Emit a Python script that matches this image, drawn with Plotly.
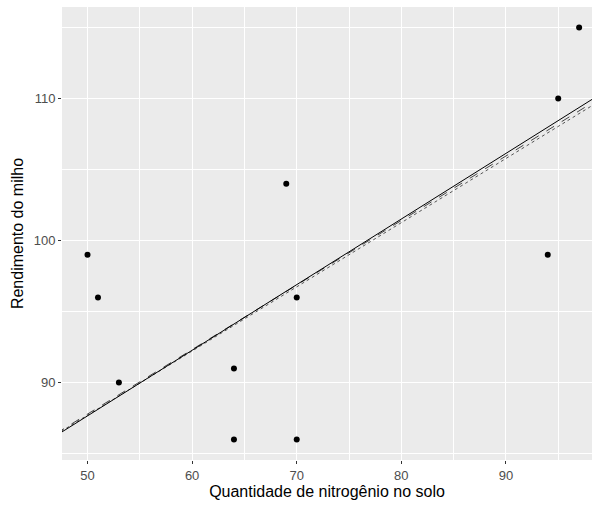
import plotly.graph_objects as go

# Data points
nitrogen = [50, 51, 53, 64, 64, 69, 70, 70, 94, 95, 97]
yield_milho = [99, 96, 90, 91, 86, 104, 96, 86, 99, 110, 115]

# Fitted lines (endpoints)
fit_x = [47, 100]
fit_solid = [86.27, 110.76]
fit_dashed = [86.42, 110.50]
fit_dotted = [86.35, 110.30]

x_ticks = [50, 60, 70, 80, 90]
y_ticks = [90, 100, 110]

fig = go.Figure()
fig.add_trace(go.Scatter(x=nitrogen, y=yield_milho, mode="markers",
                         marker=dict(color="black", size=6), showlegend=False))
fig.add_trace(go.Scatter(x=fit_x, y=fit_dotted, mode="lines",
                         line=dict(color="#555555", width=1, dash="dot"), showlegend=False))
fig.add_trace(go.Scatter(x=fit_x, y=fit_dashed, mode="lines",
                         line=dict(color="#444444", width=1, dash="dash"), showlegend=False))
fig.add_trace(go.Scatter(x=fit_x, y=fit_solid, mode="lines",
                         line=dict(color="black", width=1), showlegend=False))

axis_common = dict(
    showgrid=True, gridcolor="white", gridwidth=1.1,
    zeroline=False, showline=False,
    ticks="outside", ticklen=3, tickcolor="#333333", tickwidth=1,
    tickfont=dict(family="Liberation Sans, Arial", size=13, color="#4D4D4D"),
    minor=dict(dtick=5, showgrid=True, gridcolor="white", gridwidth=0.5, ticks=""),
)

fig.update_layout(
    width=592, height=505,
    margin=dict(l=62, r=0, t=7, b=45),
    plot_bgcolor="#EBEBEB", paper_bgcolor="white",
    font=dict(family="Liberation Sans, Arial", color="black"),
    xaxis=dict(range=[47.56, 98.23], tickvals=x_ticks,
               title=dict(text="Quantidade de nitrogênio no solo",
                          font=dict(size=16, color="black"), standoff=2),
               **axis_common),
    yaxis=dict(range=[84.55, 116.45], tickvals=y_ticks,
               title=dict(text="Rendimento do milho",
                          font=dict(size=16, color="black"), standoff=6),
               **axis_common),
)

fig.write_html("out.html")
